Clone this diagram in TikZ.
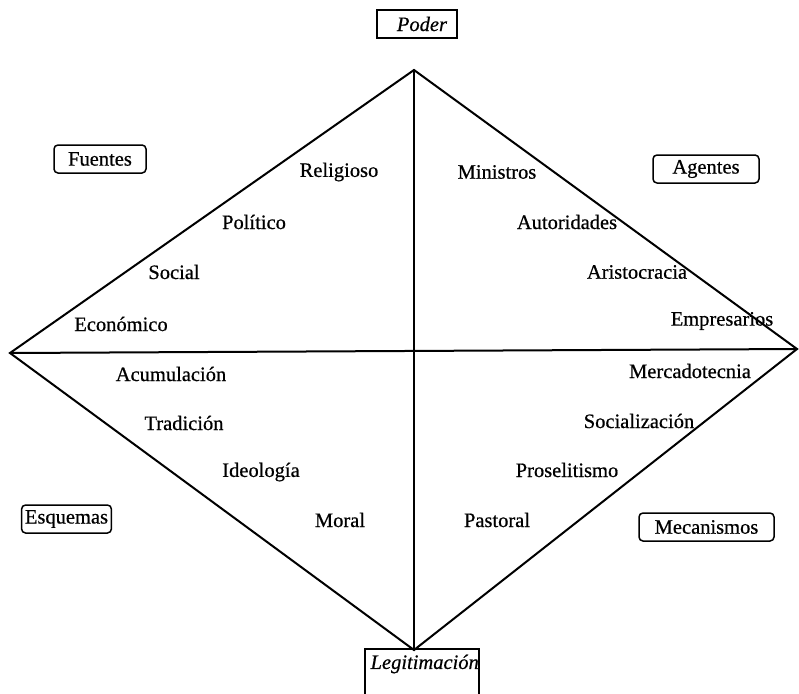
\documentclass[tikz,border=0pt]{standalone}
\usepackage{fontspec}
\setmainfont{Liberation Serif}[FakeBold=0.6]
\begin{document}
\begin{tikzpicture}[x=1pt,y=-1pt,
  lbl/.style={font=\fontsize{20.5}{22}\selectfont, inner sep=0pt},
  ibox/.style={draw, line width=1.5pt, font=\fontsize{20.5}{22}\selectfont\itshape, minimum height=28pt, inner ysep=0pt},
  rbox/.style={draw, line width=1.5pt, rounded corners=4pt, font=\fontsize{20.5}{22}\selectfont, minimum height=28pt, inner ysep=0pt},
  edge/.style={line width=2pt, line cap=round}]
\useasboundingbox (0,0) rectangle (799,693);
% vertices
\coordinate (T) at (414,70);
\coordinate (L) at (10,353);
\coordinate (R) at (797,349);
\coordinate (B) at (414,650);
\draw[edge] (T) -- (L) -- (B) -- (R) -- cycle;
\draw[edge] (L) -- (R);
\draw[edge] (T) -- (B);
% corner boxes
\node[ibox, text width=60pt, align=right, inner xsep=10pt] (poder) at (417,24) {Poder};
\node[draw, line width=1.5pt, minimum width=114pt, minimum height=90pt, inner sep=0pt, anchor=north west] (legbox) at (364,648) {};
\node[lbl, font=\fontsize{20.5}{22}\selectfont\itshape, anchor=east] (leg) at (479,664) {Legitimación};
\node[rbox, minimum width=92pt] (fuentes) at (100,159) {Fuentes};
\node[rbox, minimum width=106pt] (agentes) at (706,169) {Agentes};
\node[rbox, minimum width=87pt] (esquemas) at (66.5,519) {Esquemas};
\node[rbox, minimum width=135pt] (mecanismos) at (706.5,527) {Mecanismos};
% upper left
\node[lbl] (religioso) at (339,172) {Religioso};
\node[lbl] (politico) at (254,222) {Político};
\node[lbl] (social) at (174,272) {Social};
\node[lbl] (economico) at (121,324) {Económico};
% upper right
\node[lbl] (ministros) at (497,172) {Ministros};
\node[lbl] (autoridades) at (567,222) {Autoridades};
\node[lbl] (aristocracia) at (637,272) {Aristocracia};
\node[lbl] (empresarios) at (722,321) {Empresarios};
% lower left
\node[lbl] (acumulacion) at (171,374) {Acumulación};
\node[lbl] (tradicion) at (184,423) {Tradición};
\node[lbl] (ideologia) at (261,472) {Ideología};
\node[lbl] (moral) at (340,520) {Moral};
% lower right
\node[lbl] (mercadotecnia) at (690,371) {Mercadotecnia};
\node[lbl] (socializacion) at (639,421) {Socialización};
\node[lbl] (proselitismo) at (567,470) {Proselitismo};
\node[lbl] (pastoral) at (497,520) {Pastoral};
\end{tikzpicture}
\end{document}
